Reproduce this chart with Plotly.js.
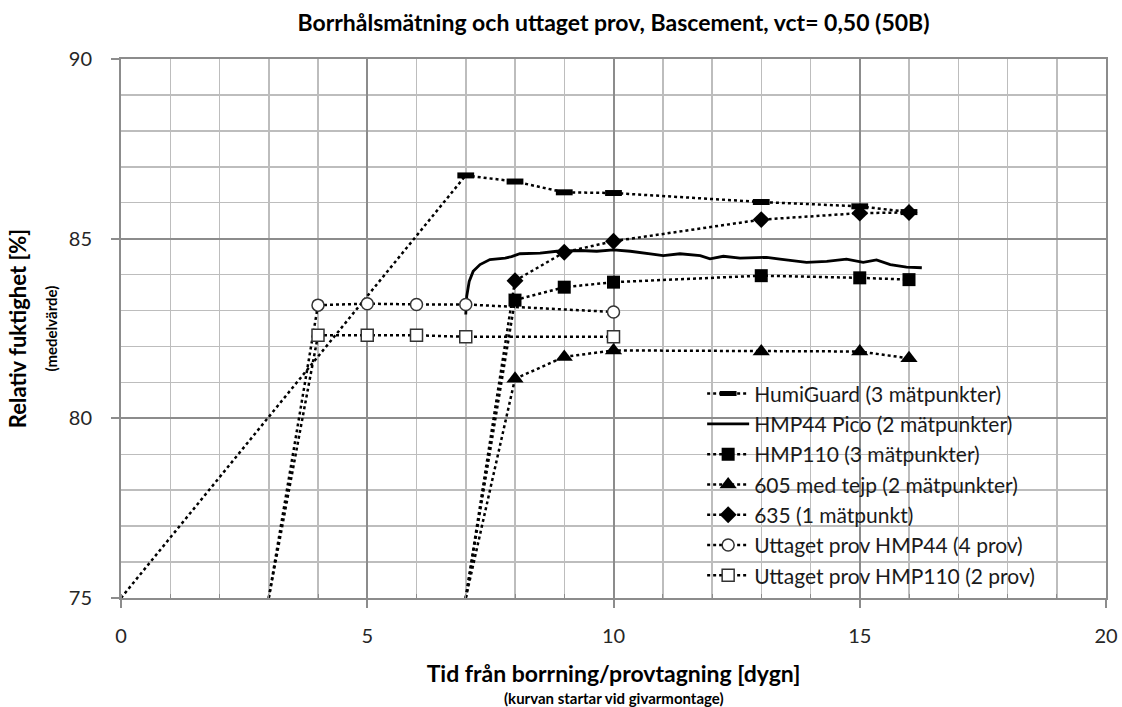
<!DOCTYPE html>
<html>
<head>
<meta charset="utf-8">
<script src="https://cdn.plot.ly/plotly-3.0.1.min.js"></script>
<style>html,body{margin:0;padding:0;background:#fff;}#chart{width:1122px;height:707px;}</style>
</head>
<body>
<div id="chart"></div>
<script>
// First value of each measured series is the start point (sensor mounting / sampling), drawn without marker.

// HumiGuard (3 mätpunkter)
const humiX = [0, 7, 8, 9, 10, 13, 15, 16];
const humiY = [75, 86.76, 86.59, 86.29, 86.27, 86.02, 85.9, 85.74];

// HMP44 Pico (2 mätpunkter) - continuous logging
const picoX = [7.0, 7.02, 7.07, 7.15, 7.29, 7.49, 7.8, 7.93, 8.1, 8.51, 8.85, 9.32, 9.66, 10.0, 10.34, 10.68, 11.01, 11.35, 11.76, 11.96, 12.23, 12.57, 13.11, 13.38, 13.92, 14.33, 14.73, 15.07, 15.34, 15.62, 15.95, 16.26];
const picoY = [82.89, 83.4, 83.81, 84.09, 84.28, 84.42, 84.46, 84.5, 84.58, 84.6, 84.65, 84.67, 84.65, 84.69, 84.65, 84.58, 84.53, 84.58, 84.53, 84.44, 84.51, 84.46, 84.48, 84.43, 84.34, 84.37, 84.43, 84.34, 84.41, 84.28, 84.21, 84.19];

// HMP110 (3 mätpunkter)
const hmp110X = [7, 8, 9, 10, 13, 15, 16];
const hmp110Y = [75, 83.29, 83.65, 83.79, 83.97, 83.91, 83.86];

// 605 med tejp (2 mätpunkter)
const s605X = [7, 8, 9, 10, 13, 15, 16];
const s605Y = [75, 81.1, 81.71, 81.89, 81.86, 81.86, 81.67];

// 635 (1 mätpunkt)
const s635X = [7, 8, 9, 10, 13, 15, 16];
const s635Y = [75, 83.83, 84.62, 84.93, 85.53, 85.71, 85.73];

// Uttaget prov HMP44 (4 prov)
const provHmp44X = [3, 4, 5, 6, 7, 10];
const provHmp44Y = [75, 83.15, 83.19, 83.17, 83.17, 82.96];

// Uttaget prov HMP110 (2 prov)
const provHmp110X = [3, 4, 5, 6, 7, 10];
const provHmp110Y = [75, 82.31, 82.31, 82.31, 82.27, 82.27];

const seriesNames = [
  'HumiGuard (3 mätpunkter)',
  'HMP44 Pico (2 mätpunkter)',
  'HMP110 (3 mätpunkter)',
  '605 med tejp (2 mätpunkter)',
  '635 (1 mätpunkt)',
  'Uttaget prov HMP44 (4 prov)',
  'Uttaget prov HMP110 (2 prov)'
];

const xTickVals = [0, 5, 10, 15, 20];
const yTickVals = [75, 80, 85, 90];

const FONT = 'Lato, "Open Sans", sans-serif';
const dotLine = {color: '#000', width: 2.5, dash: 'dot'};

const markerSeries = [
  {x: humiX, y: humiY, name: seriesNames[0], marker: {symbol: 'line-ew', size: 12, color: '#000', line: {color: '#000', width: 6}}},
  {x: hmp110X, y: hmp110Y, name: seriesNames[2], marker: {symbol: 'square', size: 13, color: '#000'}},
  {x: s605X, y: s605Y, name: seriesNames[3], marker: {symbol: 'triangle-up', size: 15, color: '#000'}},
  {x: s635X, y: s635Y, name: seriesNames[4], marker: {symbol: 'diamond', size: 13, color: '#000'}},
  {x: provHmp44X, y: provHmp44Y, name: seriesNames[5], marker: {symbol: 'circle', size: 12, color: '#fff', line: {color: '#333', width: 1.5}}},
  {x: provHmp110X, y: provHmp110Y, name: seriesNames[6], marker: {symbol: 'square', size: 12, color: '#fff', line: {color: '#333', width: 1.5}}}
];

const traces = [];
// lead-in segments from start point (no marker)
markerSeries.forEach(s => {
  traces.push({x: s.x.slice(0, 2), y: s.y.slice(0, 2), mode: 'lines', line: dotLine,
               showlegend: false, legendgroup: s.name, hoverinfo: 'skip'});
});
// Pico continuous line
traces.push({x: picoX, y: picoY, name: seriesNames[1], mode: 'lines', line: {color: '#000', width: 2.8}, legendrank: 2});
// measured points with markers
const ranks = [1, 3, 4, 5, 6, 7];
markerSeries.forEach((s, i) => {
  traces.push({x: s.x.slice(1), y: s.y.slice(1), name: s.name, legendgroup: s.name, legendrank: ranks[i],
               mode: 'lines+markers', line: dotLine, marker: s.marker});
});

const axisCommon = {
  showline: true, linecolor: '#8c8c8c', linewidth: 2, mirror: true,
  showgrid: true, gridcolor: '#8c8c8c', gridwidth: 2,
  zeroline: false, ticks: 'outside', ticklen: 8, tickwidth: 2, tickcolor: '#8c8c8c',
  tickfont: {family: FONT, size: 20, color: '#262626'}
};

const layout = {
  width: 1122, height: 707,
  margin: {l: 121, r: 16, t: 59, b: 109},
  paper_bgcolor: '#fff', plot_bgcolor: '#fff',
  font: {family: FONT, color: '#000'},
  title: {text: '<b>Borrhålsmätning och uttaget prov, Bascement, vct= 0,50 (50B)</b>',
          font: {family: FONT, size: 23, color: '#000'}, x: 0.5, xref: 'paper', xanchor: 'center', y: 0.967, yanchor: 'middle'},
  xaxis: Object.assign({}, axisCommon, {
    range: [0, 20], tickvals: xTickVals, ticklabelstandoff: 11,
    minor: {dtick: 1, showgrid: true, gridcolor: '#bdbdbd', gridwidth: 1.5, ticks: 'inside', ticklen: 4, tickcolor: '#8c8c8c', tickwidth: 1},
    title: {text: '<b>Tid från borrning/provtagning [dygn]</b>', font: {family: FONT, size: 23, color: '#000'}, standoff: 20}
  }),
  yaxis: Object.assign({}, axisCommon, {
    range: [75, 90], tickvals: yTickVals, ticklabelstandoff: 15,
    minor: {dtick: 1, showgrid: true, gridcolor: '#bdbdbd', gridwidth: 1.5, ticks: ''},
    title: {text: '<b>Relativ fuktighet [%]</b>', font: {family: FONT, size: 22, color: '#000'}, standoff: 36}
  }),
  showlegend: true,
  legend: {x: 0.59, xanchor: 'left', y: 0.003, yanchor: 'bottom', bgcolor: 'rgba(0,0,0,0)', borderwidth: 0,
           itemwidth: 42, font: {family: FONT, size: 21, color: '#1a1a1a'}, tracegroupgap: 0},
  shapes: [{type: 'rect', xref: 'paper', yref: 'paper', x0: 0.54, x1: 0.9705, y0: 0.003, y1: 0.414,
            fillcolor: '#fff', line: {width: 0}, layer: 'between'}],
  annotations: [
    {text: '<b>(medelvärde)</b>', xref: 'paper', yref: 'paper', x: -0.072, y: 0.5, xanchor: 'center', yanchor: 'middle',
     textangle: -90, showarrow: false, font: {family: FONT, size: 15, color: '#000'}},
    {text: '<b>(kurvan startar vid givarmontage)</b>', xref: 'paper', yref: 'paper', x: 0.5, y: -0.186, xanchor: 'center', yanchor: 'middle',
     showarrow: false, font: {family: FONT, size: 15, color: '#000'}}
  ]
};

Plotly.newPlot('chart', traces, layout, {displayModeBar: false, staticPlot: true});
</script>
</body>
</html>
